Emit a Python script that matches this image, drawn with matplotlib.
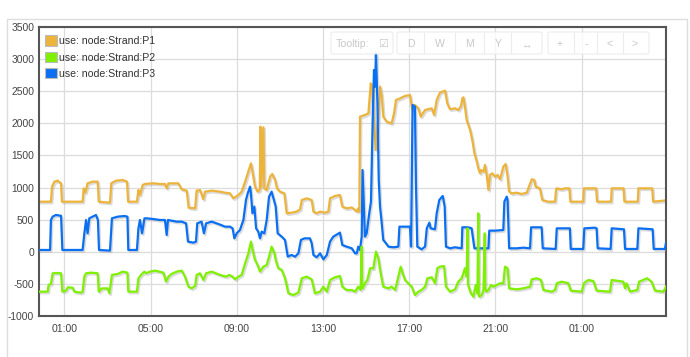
import matplotlib
matplotlib.use("Agg")
import matplotlib.pyplot as plt
import matplotlib.patheffects as pe
from matplotlib.patches import Patch, Rectangle, FancyBboxPatch

plt.rcParams['font.family'] = ['Liberation Sans', 'DejaVu Sans']

# ---------------- data (hours since midnight of day 1) ----------------
series_names = ["use: node:Strand:P1", "use: node:Strand:P2", "use: node:Strand:P3"]
series_colors = ["#EDB43C", "#7FF000", "#0B6FF2"]

p1_hours = [-0.17, 0.38, 0.43, 0.54, 0.69, 0.85, 0.89, 1.85, 1.90, 1.98, 2.08, 2.32, 2.55, 2.60, 3.12,
            3.18, 3.40, 3.71, 3.91, 3.96, 4.37, 4.44, 4.51, 4.64, 4.74, 5.13, 5.44, 5.67, 5.75, 5.83,
            6.29, 6.45, 6.68, 6.77, 7.07, 7.14, 7.30, 7.45, 7.53, 7.84, 8.23, 8.46, 8.69, 8.84, 9.08,
            9.23, 9.39, 9.54, 9.66, 9.73, 9.85, 9.97, 10.07, 10.10, 10.14, 10.24, 10.28, 10.39, 10.55,
            10.65, 10.78, 10.87, 11.01, 11.21, 11.32, 11.55, 11.78, 11.94, 12.02, 12.25, 12.48, 12.56,
            12.71, 12.87, 13.10, 13.25, 13.33, 13.56, 13.79, 13.90, 14.10, 14.34, 14.49, 14.57, 14.64,
            14.69, 14.72, 14.95, 15.11, 15.22, 15.28, 15.37, 15.45, 15.56, 15.65, 15.73, 15.80, 15.96,
            16.19, 16.30, 16.39, 16.58, 16.81, 17.04, 17.15, 17.27, 17.43, 17.54, 17.74, 18.05, 18.16,
            18.28, 18.43, 18.67, 18.77, 18.90, 19.13, 19.28, 19.41, 19.47, 19.52, 19.59, 19.67, 19.83,
            19.93, 20.03, 20.14, 20.21, 20.29, 20.34, 20.45, 20.52, 20.60, 20.68, 20.75, 20.86, 20.99,
            21.11, 21.22, 21.37, 21.48, 21.57, 21.64, 21.76, 22.00, 22.22, 22.46, 22.56, 22.69, 22.81,
            22.87, 23.07, 23.18, 23.46, 23.77, 23.82, 23.85, 24.08, 24.23, 24.44, 24.48, 25.08, 25.11,
            25.68, 25.72, 26.37, 26.40, 26.95, 26.99, 27.61, 27.64, 28.28, 28.32, 28.92]
p1_values = [780, 780, 1014, 1092, 1107, 1066, 780, 780, 988, 920, 1066, 1092, 1092, 780, 765,
             1066, 1107, 1118, 1092, 780, 780, 962, 884, 1040, 1056, 1066, 1056, 1056, 988, 1066,
             1066, 972, 952, 687, 677, 952, 962, 817, 936, 952, 936, 920, 910, 832, 884,
             936, 1092, 1248, 1377, 1248, 1014, 936, 962, 1948, 1014, 1938, 988, 962, 1170,
             1211, 1120, 988, 936, 910, 599, 609, 625, 661, 806, 832, 806, 625,
             599, 625, 609, 625, 832, 869, 884, 703, 677, 690, 651, 625, 677,
             625, 2104, 2130, 2156, 2623, 2570, 2052, 1585, 2052, 2571, 2420, 2104, 2026,
             2000, 2156, 2363, 2389, 2426, 2441, 2208, 2286, 2234, 2104, 2208, 2234, 2130,
             2363, 2478, 2509, 2311, 2218, 2234, 2208, 2270, 2389, 2405, 2260, 2052, 1896,
             1741, 1533, 1403, 1300, 1222, 1273, 1248, 1352, 1196, 962, 1196, 1222, 1170,
             1196, 1128, 1325, 1367, 1170, 936, 910, 920, 900, 920, 1014, 1128, 1118,
             1014, 988, 806, 780, 780, 972, 988, 972, 988, 988, 780, 780, 988,
             988, 780, 780, 988, 988, 780, 780, 988, 988, 780, 800]

p2_hours = [-0.17, 0.23, 0.27, 0.38, 0.46, 0.62, 0.85, 0.91, 1.08, 1.16, 1.39, 1.47, 1.78, 1.85, 1.93,
            2.01, 2.24, 2.55, 2.60, 2.75, 3.01, 3.09, 3.21, 3.48, 3.71, 3.93, 3.97, 4.37, 4.44, 4.56,
            4.72, 4.80, 4.98, 5.21, 5.60, 5.72, 5.83, 5.98, 6.22, 6.45, 6.60, 6.71, 6.76, 6.91, 7.07,
            7.14, 7.30, 7.45, 7.58, 7.84, 8.23, 8.50, 8.66, 8.81, 8.92, 9.08, 9.23, 9.39, 9.54, 9.66,
            9.77, 9.85, 9.97, 10.08, 10.24, 10.39, 10.50, 10.62, 10.75, 10.81, 10.93, 11.09, 11.24,
            11.40, 11.63, 11.86, 12.02, 12.25, 12.48, 12.63, 12.87, 13.02, 13.18, 13.33, 13.56, 13.79,
            13.90, 14.10, 14.34, 14.49, 14.64, 14.75, 14.80, 14.82, 14.84, 14.95, 15.06, 15.19, 15.34,
            15.46, 15.57, 15.68, 15.80, 16.04, 16.19, 16.35, 16.50, 16.61, 16.70, 16.81, 16.96, 17.12,
            17.27, 17.43, 17.58, 17.74, 17.85, 18.05, 18.20, 18.31, 18.43, 18.62, 18.71, 18.90, 19.13,
            19.28, 19.44, 19.59, 19.67, 19.71, 19.73, 19.76, 19.87, 19.98, 20.09, 20.17, 20.21, 20.23,
            20.26, 20.37, 20.45, 20.51, 20.53, 20.57, 20.68, 20.80, 20.91, 21.06, 21.22, 21.37, 21.45,
            21.57, 21.64, 22.00, 22.30, 22.61, 22.69, 22.92, 23.12, 23.23, 23.62, 23.77, 23.85, 24.08,
            24.39, 24.50, 25.01, 25.11, 25.31, 25.55, 25.70, 26.32, 26.40, 26.94, 27.02, 27.09, 27.25,
            27.59, 27.67, 28.05, 28.25, 28.41, 28.80, 28.92]
p2_values = [-621, -621, -517, -500, -335, -330, -335, -621, -605, -553, -560, -621, -637, -621, -387,
             -335, -325, -335, -621, -570, -570, -647, -361, -345, -309, -325, -621, -621, -413, -361,
             -309, -335, -309, -293, -325, -465, -387, -345, -309, -293, -387, -491, -543, -569, -533,
             -361, -335, -439, -335, -309, -361, -387, -361, -387, -429, -387, -361, -180, -24, 158,
             -24, -128, -206, -309, -232, -206, -76, 80, -24, -128, -257, -283, -413,
             -647, -673, -637, -413, -387, -429, -647, -621, -543, -621, -439, -397, -377,
             -543, -595, -595, -621, -543, -595, 80, -560, -569, -491, -439, -257, -257,
             2, -102, -335, -543, -569, -543, -595, -387, -232, -335, -439, -491, -543,
             -673, -621, -595, -543, -413, -397, -491, -257, -232, -222, -543, -621, -585,
             -465, -413, -257, -387, 365, -500, -543, -647, -699, -517, -647, 599, -680,
             -699, -673, -595, 287, -560, -621, -595, -517, -543, -517, -491, -491, -232,
             -257, -569, -585, -569, -543, -429, -413, -439, -595, -621, -595, -491, -465,
             -491, -605, -621, -491, -439, -455, -605, -621, -439, -465, -569, -491, -621,
             -595, -465, -413, -465, -605, -621, -543]

p3_hours = [-0.17, 0.34, 0.38, 0.46, 0.61, 0.85, 0.91, 1.85, 1.93, 2.01, 2.08, 2.16, 2.32, 2.47, 2.56,
            2.61, 3.12, 3.21, 3.48, 3.79, 3.93, 3.97, 4.37, 4.44, 4.51, 4.61, 4.72, 4.82, 5.13, 5.44,
            5.67, 5.75, 5.81, 6.22, 6.45, 6.65, 6.74, 6.99, 7.11, 7.17, 7.37, 7.48, 7.58, 7.84, 8.15,
            8.46, 8.69, 8.81, 8.89, 9.00, 9.15, 9.31, 9.43, 9.51, 9.62, 9.66, 9.73, 9.82, 9.90, 10.00,
            10.08, 10.16, 10.28, 10.39, 10.50, 10.62, 10.75, 10.81, 10.90, 11.09, 11.24, 11.37, 11.55,
            11.71, 11.86, 11.98, 12.14, 12.40, 12.48, 12.56, 12.71, 12.87, 13.02, 13.18, 13.33, 13.48,
            13.79, 13.90, 14.10, 14.34, 14.49, 14.57, 14.64, 14.72, 14.80, 14.84, 14.89, 14.95, 15.03,
            15.15, 15.23, 15.31, 15.37, 15.42, 15.46, 15.53, 15.59, 15.65, 15.73, 15.80, 15.93, 16.04,
            16.27, 16.50, 16.55, 16.81, 17.04, 17.09, 17.16, 17.27, 17.32, 17.38, 17.58, 17.74, 17.82,
            17.94, 18.00, 18.20, 18.28, 18.40, 18.56, 18.65, 18.71, 18.90, 19.13, 19.44, 19.47, 19.75,
            19.90, 20.03, 20.29, 20.68, 20.72, 20.99, 21.37, 21.42, 21.53, 21.57, 21.64, 22.00, 22.30,
            22.61, 22.66, 23.15, 23.20, 23.80, 23.85, 24.46, 24.50, 25.08, 25.13, 25.62, 25.70, 25.75,
            26.35, 26.40, 26.97, 27.02, 27.59, 27.64, 28.30, 28.35, 28.87, 28.92]
p3_values = [28, 28, 495, 547, 573, 560, 28, 28, 287, 495, 287, 521, 547, 573, 495,
             28, 18, 521, 547, 557, 547, 28, 28, 365, 495, 287, 521, 521, 510, 495,
             495, 261, 495, 469, 469, 443, 158, 142, 158, 443, 469, 287, 443, 469, 433,
             391, 391, 365, 209, 287, 339, 495, 806, 910, 1014, 910, 599, 703, 365, 313,
             209, 313, 287, 495, 858, 936, 780, 703, 287, 235, 184, -76, -50,
             -76, -24, 184, 209, 209, 132, -50, -86, -24, -118, -50, 158, 235,
             298, 106, 80, 54, -24, -24, 80, 28, 235, 1273, 780, 235, 287,
             599, 780, 2052, 2831, 2571, 3090, 2311, 1118, 703, 443, 184, 132, 80,
             70, 80, 391, 391, 391, 80, 2286, 2260, 1014, 80, 38, 80, 365,
             454, 365, 350, 599, 806, 869, 703, 80, 54, 70, 54, 381, 381,
             365, 54, 54, 54, 329, 329, 339, 780, 858, 806, 54, 54, 64,
             54, 381, 381, 54, 44, 365, 365, 44, 44, 365, 375, 365, 54,
             44, 365, 350, 44, 44, 365, 350, 44, 44, 140]

y_ticks = [-1000, -500, 0, 500, 1000, 1500, 2000, 2500, 3000, 3500]
x_tick_hours = [1, 5, 9, 13, 17, 21, 25]
x_tick_labels = ["01:00", "05:00", "09:00", "13:00", "17:00", "21:00", "01:00"]
toolbar_labels = ["D", "W", "M", "Y", "\u2194", "+", "-", "<", ">"]

# ---------------- figure ----------------
W, H = 690, 357
fig = plt.figure(figsize=(W / 100, H / 100), dpi=100)
fig.patch.set_facecolor("white")

def fx(px):
    return px / W

def fy(py):
    return 1 - py / H

# outer light frame
fig.patches.append(Rectangle((fx(7), fy(400)), fx(687) - fx(7), fy(19) - fy(400),
                             transform=fig.transFigure, fill=False, edgecolor="#dddddd",
                             linewidth=1.0, zorder=0))

ax = fig.add_axes([fx(39), fy(316), fx(666) - fx(39), fy(27) - fy(316)])
ax.set_xlim(-0.174, 28.92)
ax.set_ylim(-1000, 3500)

shadow = [pe.SimpleLineShadow(offset=(1, -1.2), shadow_color="#999999", alpha=0.35), pe.Normal()]
data = [(p1_hours, p1_values), (p2_hours, p2_values), (p3_hours, p3_values)]
lines = []
for (hh, vv), c, z in zip(data, series_colors, [2, 4, 3]):
    ln, = ax.plot(hh, vv, color=c, linewidth=1.6, zorder=z, solid_joinstyle="round",
                  path_effects=shadow)
    lines.append(ln)

ax.set_yticks(y_ticks)
ax.set_yticklabels([str(v) for v in y_ticks])
ax.set_xticks(x_tick_hours)
ax.set_xticklabels(x_tick_labels)
ax.tick_params(axis="y", length=0, labelsize=7.4, colors="#444444", pad=3.5)
ax.tick_params(axis="x", length=0, labelsize=7.6, colors="#444444", pad=6)
ax.grid(True, color="#dcdcdc", linewidth=0.9, zorder=0)
ax.set_axisbelow(True)
for s in ax.spines.values():
    s.set_color("#555555")
    s.set_linewidth(1.5)

handles = [Patch(facecolor=c, edgecolor="#bbbbbb", linewidth=0.8) for c in series_colors]
leg = ax.legend(handles, series_names, loc="upper left", bbox_to_anchor=(-0.004, 1.0),
                frameon=False, fontsize=7.6, handlelength=1.1, handleheight=1.1,
                handletextpad=0.2, labelspacing=0.55, borderpad=0.6, borderaxespad=0.2)
for t in leg.get_texts():
    t.set_color("#333333")

# toolbar (faint)
def box(x0, x1, y0=32, y1=54):
    fig.patches.append(FancyBboxPatch((fx(x0), fy(y1)), fx(x1) - fx(x0), fy(y0) - fy(y1),
                                      boxstyle="round,pad=0,rounding_size=0.004",
                                      transform=fig.transFigure, facecolor="white",
                                      edgecolor="#e8e8e8", linewidth=0.8, alpha=0.8, zorder=5))

box(331, 393)
box(397, 542)
box(548, 649)
for xs in [424, 455, 484, 511, 574, 597, 623]:
    fig.add_artist(plt.Line2D([fx(xs), fx(xs)], [fy(33), fy(53)], color="#ececec",
                              linewidth=0.8, transform=fig.transFigure, zorder=6))
fig.text(fx(352), fy(44), "Tooltip:", fontsize=7.6, color="#c8c8c8", ha="center", va="center", zorder=7)
fig.text(fx(383), fy(44), "\u2611", fontsize=8, color="#c8c8c8", ha="center", va="center",
         family=["DejaVu Sans"], zorder=7)
for lbl, xp in zip(toolbar_labels, [411, 440, 470, 498, 527, 560, 586, 610, 635]):
    fig.text(fx(xp), fy(44), lbl, fontsize=7.6, color="#c8c8c8", ha="center", va="center",
             family=["Liberation Sans", "DejaVu Sans"], zorder=7)

fig.savefig("out.png", dpi=100)
